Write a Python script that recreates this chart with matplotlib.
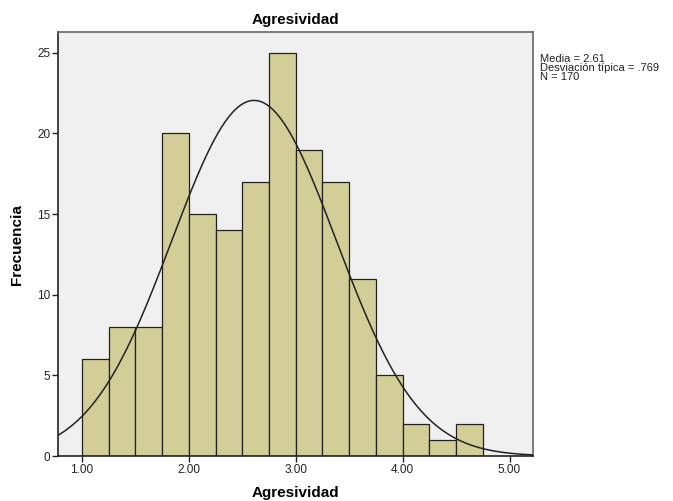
import numpy as np
import matplotlib
matplotlib.use("Agg")
import matplotlib.pyplot as plt

plt.rcParams['font.family'] = ['Liberation Sans', 'DejaVu Sans']

bin_edges = [1.00, 1.25, 1.50, 1.75, 2.00, 2.25, 2.50, 2.75, 3.00, 3.25, 3.50, 3.75, 4.00, 4.25, 4.50, 4.75]
counts = [6, 8, 8, 20, 15, 14, 17, 25, 19, 17, 11, 5, 2, 1, 2]
mean = 2.61
sd = 0.769
n = 170
x_ticks = [1.0, 2.0, 3.0, 4.0, 5.0]
y_ticks = [0, 5, 10, 15, 20, 25]

fig = plt.figure(figsize=(6.73, 5.01), dpi=100)
ax = fig.add_axes([0.0869, 0.0898, 0.792 - 0.0869, 0.9355 - 0.0898])
ax.set_facecolor('#F0F0F0')

lefts = np.array(bin_edges[:-1])
widths = np.diff(bin_edges)
ax.bar(lefts, counts, width=widths, align='edge', color='#D3CE97',
       edgecolor='#222222', linewidth=0.9, zorder=2)

xs = np.linspace(0.78, 5.22, 400)
bw = bin_edges[1] - bin_edges[0]
ys = n * bw / (sd * np.sqrt(2 * np.pi)) * np.exp(-0.5 * ((xs - mean) / sd) ** 2)
ax.plot(xs, ys, color='#222222', linewidth=1.1, zorder=3)

ax.set_xlim(0.78, 5.22)
ax.set_ylim(0, 26.27)
ax.set_xticks(x_ticks)
ax.set_xticklabels([f"{v:.2f}" for v in x_ticks])
ax.set_yticks(y_ticks)
ax.tick_params(axis='both', direction='out', length=4, width=1, color='#222222',
               labelsize=8.5, labelcolor='#222222', pad=2)
ax.tick_params(top=False, right=False)
for s in ax.spines.values():
    s.set_color('#666666')
    s.set_linewidth(1.2)
ax.spines['left'].set_color('#222222')
ax.spines['bottom'].set_color('#222222')

ax.set_title('Agresividad', fontsize=11, fontweight='bold', pad=6)
ax.set_xlabel('Agresividad', fontsize=11, fontweight='bold', labelpad=7)
ax.set_ylabel('Frecuencia', fontsize=11, fontweight='bold', labelpad=9)

fig.text(540 / 673, 1 - 54 / 501,
         f"Media = {mean:.2f}\nDesviación típica = .769\nN = {n}",
         fontsize=8, va='top', ha='left', linespacing=0.85, color='#222222')

fig.savefig('out.png', dpi=100)
